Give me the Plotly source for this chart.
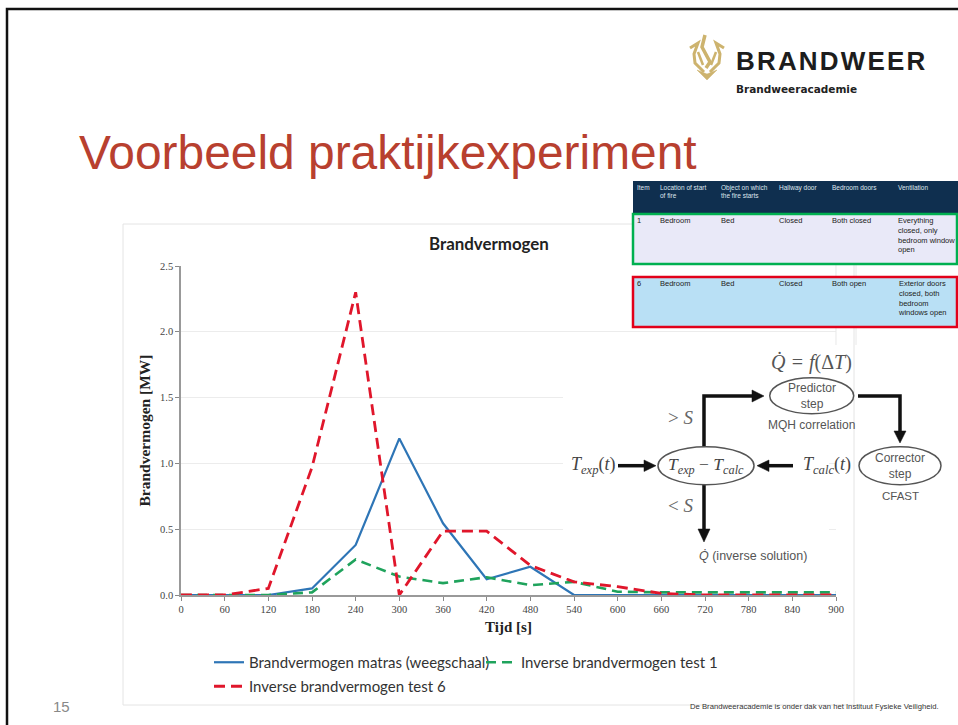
import plotly.graph_objects as go

W, H = 958, 725
time_s = [0, 60, 120, 180, 240, 300, 360, 420, 480, 540, 600, 660, 720, 780, 840, 900]
matras = [0, 0, 0, 0.05, 0.38, 1.19, 0.545, 0.12, 0.215, 0, 0, 0, 0, 0, 0, 0]
test1 = [0, 0, 0, 0.02, 0.27, 0.14, 0.09, 0.135, 0.075, 0.10, 0.025, 0.02, 0.02, 0.02, 0.02, 0.02]
test6 = [0, 0, 0.05, 0.97, 2.30, 0, 0.485, 0.485, 0.225, 0.10, 0.063, 0.012, 0, 0, 0, 0]
x_ticks = list(range(0, 901, 60))
y_ticks = [0, 0.5, 1.0, 1.5, 2.0, 2.5]

table_header = ["Item", "Location of start<br>of fire", "Object on which<br>the fire starts", "Hallway door", "Bedroom doors", "Ventilation"]
row_1 = ["1", "Bedroom", "Bed", "Closed", "Both closed", "Everything<br>closed, only<br>bedroom window<br>open"]
row_6 = ["6", "Bedroom", "Bed", "Closed", "Both open", "Exterior doors<br>closed, both<br>bedroom<br>windows open"]


def xp(v):
    return v / W


def yp(v):
    return 1 - v / H


shapes = []
ann = []


def rect(x0, y0, x1, y1, fill=None, line=None, width=0):
    shapes.append(dict(type="rect", xref="paper", yref="paper", x0=xp(x0), x1=xp(x1), y0=yp(y1), y1=yp(y0),
                       fillcolor=fill or "rgba(0,0,0,0)", line=dict(color=line or "rgba(0,0,0,0)", width=width), layer="above"))


def seg(pts, color="#111", width=3.5):
    d = "M " + " L ".join(f"{xp(a):.5f},{yp(b):.5f}" for a, b in pts)
    shapes.append(dict(type="path", xref="paper", yref="paper", path=d, line=dict(color=color, width=width), layer="above"))


def tri(pts, color="#111"):
    d = "M " + " L ".join(f"{xp(a):.5f},{yp(b):.5f}" for a, b in pts) + " Z"
    shapes.append(dict(type="path", xref="paper", yref="paper", path=d, fillcolor=color, line=dict(color=color, width=0.5), layer="above"))


def ell(cx, cy, rx, ry):
    shapes.append(dict(type="circle", xref="paper", yref="paper", x0=xp(cx - rx), x1=xp(cx + rx), y0=yp(cy + ry), y1=yp(cy - ry),
                       fillcolor="white", line=dict(color="#555", width=1.5), layer="above"))


def txt(x, y, s, size=12, color="#333", family="Liberation Sans", xanchor="center", yanchor="middle", align=None):
    ann.append(dict(xref="paper", yref="paper", x=xp(x), y=yp(y), text=s, showarrow=False, xanchor=xanchor, yanchor=yanchor,
                    align=align or ("left" if xanchor == "left" else "center"), font=dict(size=size, color=color, family=family),
                    borderpad=0, borderwidth=0))


# Slide frame
rect(7, 9, W + 10, H + 10, line="#111", width=2.5)

# Chart panel (drawn below the plot)
panel = dict(type="rect", xref="paper", yref="paper", x0=xp(123), x1=xp(854), y0=yp(705), y1=yp(224), fillcolor="white",
             line=dict(color="#e4e4e4", width=1), layer="below")
shapes.append(panel)

# White cover behind the flow diagram
rect(563, 340, 829, 578, fill="white")
# Faint lines of the slide behind
seg([(836, 265), (836, 345)], color="#e8e8e8", width=1)
seg([(856, 265), (856, 345)], color="#e8e8e8", width=1)

# Table
rect(633, 181, W, 213, fill="#0F2F4F")
rect(633, 214, W - 1, 264, fill="#E9E9F8", line="#00B050", width=2.5)
rect(633, 277, W - 1, 327, fill="#B9E0F5", line="#E2001A", width=2.5)
col_x = [637, 660, 721, 779, 832, 898]
for cx, a, b, c in zip(col_x, table_header, row_1, row_6):
    txt(cx, 184, a, size=6.5, color="#dfe6ee", xanchor="left", yanchor="top")
    txt(cx, 216, b, size=7.5, color="#222", xanchor="left", yanchor="top")
    txt(cx, 279, c, size=7.5, color="#222", xanchor="left", yanchor="top")

# Flow diagram
seg([(704, 447), (704, 396), (757, 396)])
tri([(764, 396), (752, 390), (752, 402)])
seg([(858, 396), (900, 396), (900, 434)])
tri([(900, 443), (894, 431), (906, 431)])
seg([(618, 465.7), (648, 465.7)])
tri([(656, 465.7), (644, 460), (644, 471.5)])
seg([(793, 465.7), (765, 465.7)])
tri([(757, 465.7), (769, 460), (769, 471.5)])
seg([(704, 485), (704, 532)])
tri([(704, 542), (698, 529), (710, 529)])
ell(811.7, 395.7, 42, 18)
ell(706, 465.7, 48, 19)
ell(900, 465.7, 41, 19)
serif = "Liberation Serif"
txt(811.7, 362, "<i>Q̇ = f</i>(Δ<i>T</i>)", size=20, color="#555", family=serif)
txt(811.7, 395.7, "Predictor<br>step", size=12, color="#555")
txt(811.7, 425, "MQH correlation", size=12, color="#555")
txt(680.7, 418, "&gt; <i>S</i>", size=19, color="#666", family=serif)
txt(680.7, 505.7, "&lt; <i>S</i>", size=19, color="#666", family=serif)
txt(593, 465.7, "<i>T<sub>exp</sub></i>(<i>t</i>)", size=18, color="#444", family=serif)
txt(706, 465.7, "<i>T<sub>exp</sub></i> − <i>T<sub>calc</sub></i>", size=17.5, color="#444", family=serif)
txt(826.7, 465.7, "<i>T<sub>calc</sub></i>(<i>t</i>)", size=18, color="#444", family=serif)
txt(900, 465.7, "Corrector<br>step", size=12, color="#555")
txt(900, 496, "CFAST", size=11.5, color="#555")
txt(753, 556, "<i>Q̇</i> (inverse solution)", size=12.5, color="#555")

# Logo
gold = "#CDB36E"
seg([(690, 48), (698, 43), (694, 54), (695, 63), (704, 72)], color=gold, width=3)
seg([(724, 48), (716, 43), (720, 54), (719, 63), (710, 72)], color=gold, width=3)
seg([(705, 35), (702, 47), (710, 62), (706, 68)], color=gold, width=3.5)
seg([(698, 52), (703, 65)], color=gold, width=2.5)
seg([(716, 52), (711, 65)], color=gold, width=2.5)
tri([(697, 70), (707, 74), (717, 70), (707, 80)], color=gold)
txt(736, 61, "<b>B\u200aR\u200aA\u200aN\u200aD\u200aW\u200aE\u200aE\u200aR</b>", size=26, color="#1d1d1d", family="Liberation Sans", xanchor="left")
txt(736, 89, "<b>Brandweeracademie</b>", size=10.5, color="#222", family="DejaVu Sans", xanchor="left")

# Slide texts
txt(79, 152, "Voorbeeld praktijkexperiment", size=47.9, color="#B8402F", xanchor="left")
txt(489, 243, "<b>Brandvermogen</b>", size=16.9, color="#222", family="Lato")
txt(61, 706, "15", size=15, color="#888")
txt(690, 706, "De Brandweeracademie is onder dak van het Instituut Fysieke Veiligheid.", size=7.7, color="#333", xanchor="left")

fig = go.Figure()
fig.add_trace(go.Scatter(x=time_s, y=matras, mode="lines", name="Brandvermogen matras (weegschaal)",
                         line=dict(color="#2E75B6", width=2.2)))
fig.add_trace(go.Scatter(x=time_s, y=test1, mode="lines", name="Inverse brandvermogen test 1",
                         line=dict(color="#1FA35C", width=2.6, dash="10px,6px")))
fig.add_trace(go.Scatter(x=time_s, y=test6, mode="lines", name="Inverse brandvermogen test 6", legend="legend2",
                         line=dict(color="#E0162B", width=2.8, dash="11px,6px")))

legend_style = dict(orientation="h", xanchor="left", yanchor="top", traceorder="normal",
                    font=dict(family="Lato", size=15, color="#333"), entrywidth=227, entrywidthmode="pixels",
                    itemwidth=30, bgcolor="rgba(0,0,0,0)")

fig.update_layout(
    width=W, height=H, margin=dict(l=0, r=0, t=0, b=0, autoexpand=False), paper_bgcolor="white", plot_bgcolor="rgba(0,0,0,0)",
    shapes=shapes, annotations=ann,
    showlegend=True,
    legend=dict(x=xp(209), y=yp(646), **legend_style),
    legend2=dict(x=xp(209), y=yp(670), **legend_style),
    xaxis=dict(domain=[xp(181), xp(836)], range=[0, 900], tickvals=x_ticks, ticks="outside", ticklen=4, tickcolor="#888",
               showgrid=False, showline=True, linecolor="#999", linewidth=1.5, zeroline=False,
               tickfont=dict(family=serif, size=10.5, color="#444"),
               title=dict(text="<b>Tijd [s]</b>", standoff=7, font=dict(family=serif, size=15, color="#222"))),
    yaxis=dict(domain=[yp(595), yp(266)], range=[0, 2.5], tickvals=y_ticks, tickformat=".1f", ticks="outside", ticklen=4,
               tickcolor="#888", showgrid=True, gridcolor="#ececec", gridwidth=1, showline=True, linecolor="#999", linewidth=1.5,
               zeroline=False, tickfont=dict(family=serif, size=10.5, color="#444"),
               title=dict(text="<b>Brandvermogen [MW]</b>", standoff=6, font=dict(family=serif, size=15.5, color="#222"))),
)
fig.write_html("out.html", config={"displayModeBar": False},
               post_script="document.body.style.margin='0';document.documentElement.style.overflow='hidden';")
